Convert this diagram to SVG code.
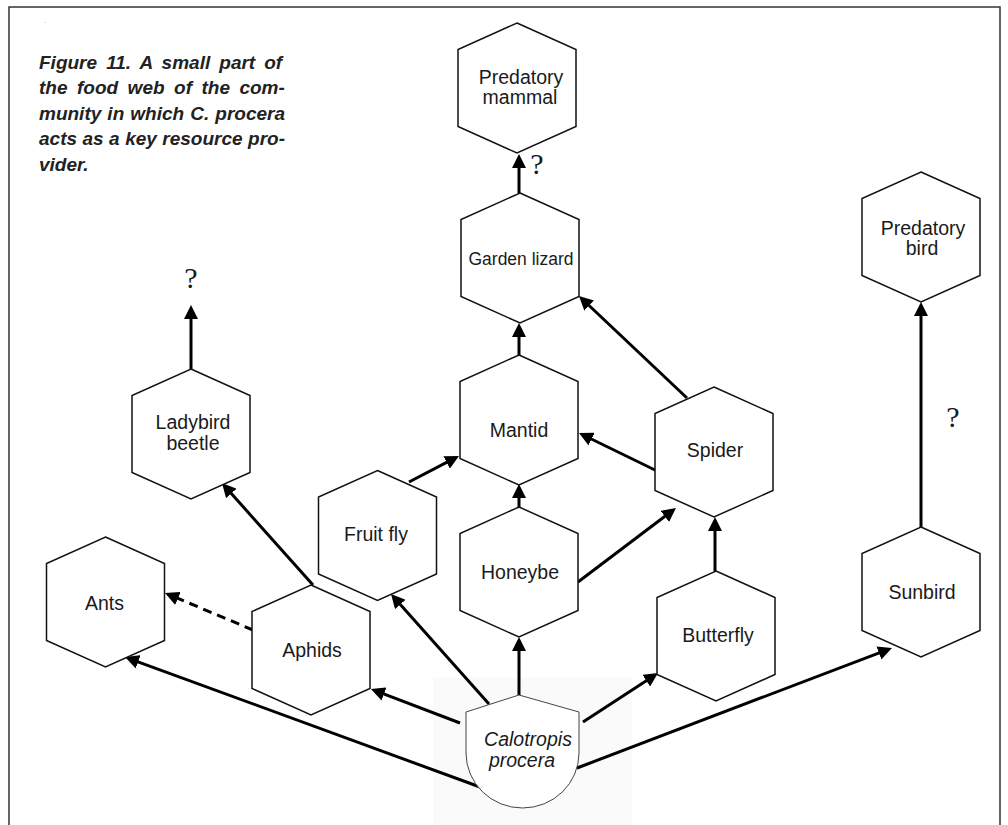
<svg xmlns="http://www.w3.org/2000/svg" xmlns:xlink="http://www.w3.org/1999/xlink" width="1008" height="825" viewBox="0 0 1008 825">
<style>
.hex{fill:#fff;stroke:#111;stroke-width:1.5}
.lbl{font-family:"Liberation Sans",Arial,sans-serif;font-size:19.5px;fill:#1a1a1a;text-anchor:middle}
.q{font-family:"Liberation Serif","Times New Roman",serif;font-size:30px;fill:#1a1a1a;text-anchor:middle}
.title{font-family:"Liberation Sans",Arial,sans-serif;font-size:19px;font-weight:bold;font-style:italic;fill:#222}
.arr{fill:none;stroke:#000;stroke-width:3;marker-end:url(#ah)}
.dash{stroke-dasharray:9 6}
</style>
<defs>
<path id="hex" d="M0,-65 L59,-38.5 L59,38.5 L0,65 L-59,38.5 L-59,-38.5 Z"/>
<marker id="ah" markerUnits="userSpaceOnUse" viewBox="-6 -7 14 14" refX="0" refY="0" markerWidth="14" markerHeight="14" orient="auto">
<path d="M-6,-7 L8,0 L-6,7 Z" fill="#000"/>
</marker>
</defs>
<rect width="1008" height="825" fill="#fff"/>
<rect x="433" y="678" width="199" height="147" fill="#fafafa"/>
<path d="M9,825 L9,7 L1000,7 L1000,825" fill="none" stroke="#333" stroke-width="1.5"/>
<text x="44" y="23" style="font-family:'Liberation Sans',sans-serif;font-size:6px;fill:#333">.</text>
<g id="title" class="title">
<text x="39" y="68.5" word-spacing="3.8">Figure 11. A small part of</text>
<text x="39" y="94" word-spacing="4.2">the food web of the com-</text>
<text x="39" y="119.5" word-spacing="0.8">munity in which C. procera</text>
<text x="39" y="145" word-spacing="0.2">acts as a key resource pro-</text>
<text x="39" y="170.5">vider.</text>
</g>
<g id="connectors">
<path class="arr" d="M191,370 L191,313"/>
<path class="arr" d="M519,193 L519,162"/>
<path class="arr" d="M519,357 L519,331"/>
<path class="arr" d="M519,508 L519,492"/>
<path class="arr" d="M519,695 L519,645"/>
<path class="arr" d="M921,528 L921,310"/>
<path class="arr" d="M715,571 L715,525"/>
<path class="arr" d="M687,398 L584.8,301.5"/>
<path class="arr" d="M657,471 L586.2,436.5"/>
<path class="arr" d="M578,582 L669.6,512.8"/>
<path class="arr" d="M409,482 L451.9,459.7"/>
<path class="arr" d="M489,704 L396.3,600"/>
<path class="arr" d="M460,723 L378.4,691.9"/>
<path class="arr" d="M313,585 L227.3,489"/>
<path class="arr dash" d="M253,630 L172.4,596.1"/>
<path class="arr" d="M480,787 L132.5,659.8"/>
<path class="arr" d="M583,722 L651.3,677.4"/>
<path class="arr" d="M577,768 L884.5,650.8"/>
<text class="q" x="537" y="174">?</text>
<text class="q" x="191" y="288">?</text>
<text class="q" x="953" y="427">?</text>
</g>
<g id="predatory-mammal">
<use xlink:href="#hex" href="#hex" x="517" y="88" class="hex"/>
<text class="lbl" x="521" y="84">Predatory</text>
<text class="lbl" x="520" y="104">mammal</text>
</g>
<g id="garden-lizard">
<use xlink:href="#hex" href="#hex" x="520" y="258" class="hex"/>
<text class="lbl" x="521" y="265" style="font-size:17.5px">Garden lizard</text>
</g>
<g id="mantid">
<use xlink:href="#hex" href="#hex" x="519" y="420" class="hex"/>
<text class="lbl" x="519" y="437">Mantid</text>
</g>
<g id="honeybe">
<use xlink:href="#hex" href="#hex" x="519" y="572" class="hex"/>
<text class="lbl" x="520" y="579">Honeybe</text>
</g>
<g id="predatory-bird">
<use xlink:href="#hex" href="#hex" x="921" y="237" class="hex"/>
<text class="lbl" x="923" y="235">Predatory</text>
<text class="lbl" x="922" y="255">bird</text>
</g>
<g id="spider">
<use xlink:href="#hex" href="#hex" x="714" y="452" class="hex"/>
<text class="lbl" x="715" y="457">Spider</text>
</g>
<g id="butterfly">
<use xlink:href="#hex" href="#hex" x="716" y="636" class="hex"/>
<text class="lbl" x="718" y="642">Butterfly</text>
</g>
<g id="sunbird">
<use xlink:href="#hex" href="#hex" x="921" y="592" class="hex"/>
<text class="lbl" x="922" y="599">Sunbird</text>
</g>
<g id="ladybird-beetle">
<use xlink:href="#hex" href="#hex" x="191" y="434" class="hex"/>
<text class="lbl" x="193" y="429">Ladybird</text>
<text class="lbl" x="193" y="450">beetle</text>
</g>
<g id="fruit-fly">
<use xlink:href="#hex" href="#hex" x="377.5" y="535.5" class="hex"/>
<text class="lbl" x="376" y="541">Fruit fly</text>
</g>
<g id="aphids">
<use xlink:href="#hex" href="#hex" x="311" y="650" class="hex"/>
<text class="lbl" x="312" y="657">Aphids</text>
</g>
<g id="ants">
<use xlink:href="#hex" href="#hex" x="105.5" y="602" class="hex"/>
<text class="lbl" x="85" y="610" style="text-anchor:start">Ants</text>
</g>
<g id="calotropis-procera">
<path d="M519,695 L579,712 L579,753 A56.5,55 0 0 1 466,753 L466,712 Z" fill="#fff" stroke="#444" stroke-width="1"/>
<text class="lbl" x="528" y="746" style="font-style:italic">Calotropis</text>
<text class="lbl" x="522" y="767" style="font-style:italic">procera</text>
</g>
</svg>
